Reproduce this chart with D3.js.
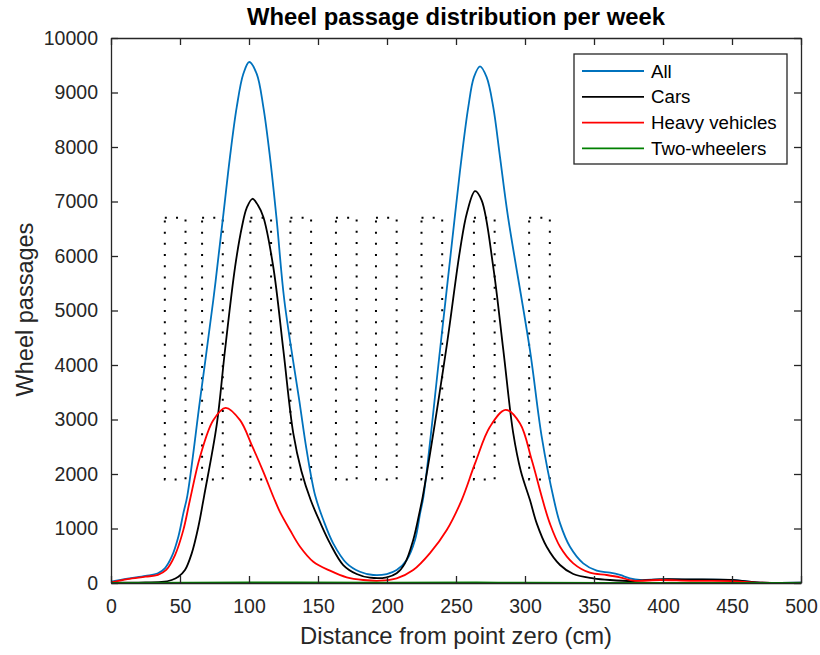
<!DOCTYPE html>
<html lang="en">
<head>
<meta charset="UTF-8">
<title>Wheel passage distribution per week</title>
<script src="https://cdn.jsdelivr.net/npm/d3@7"></script>
<style>
    body { margin: 0; background: #fff; }
    text { font-family: Arial, "Liberation Sans", Helvetica, sans-serif; fill: #262626; }
    .axis path, .axis line { stroke: #262626; }
</style>
</head>
<body>
<svg id="chart" width="820" height="655"></svg>
<script>
// x ticks / y ticks
var xTicks = [0, 50, 100, 150, 200, 250, 300, 350, 400, 450, 500];
var yTicks = [0, 1000, 2000, 3000, 4000, 5000, 6000, 7000, 8000, 9000, 10000];

var seriesNames = ['All', 'Cars', 'Heavy vehicles', 'Two-wheelers'];
var seriesColors = ['#0072BD', '#000000', '#FF0000', '#008000'];

// [distance cm, wheel passages]
var allPoints = [[0,24],[12,80],[25,130],[34,178],[39,269],[44,482],[48.8,850],[52.4,1278],[55.3,1600],
    [64.5,3355],[74.1,5188],[81.6,6800],[86.2,7815],[91.1,8731],[95.9,9343],[100.2,9560],[105.6,9343],
    [110.4,8731],[115.2,7815],[120.1,6654],[125.6,5188],[136.4,3355],[142,2400],[148,1600],[153.9,1155],[161,728],
    [170.8,361],[180.4,207],[190,147],[199.8,165],[207,238],[214.3,422],[220.3,788],[224,1278],[226.5,1600],
    [238.4,4271],[249.5,6800],[254.1,7815],[258.9,8731],[263,9282],[267.4,9480],[272.2,9282],[277,8731],
    [281.9,7815],[287.5,6750],[303.6,4271],[312,2700],[321,1522],[325.4,1094],[332.6,665],[342.2,361],[352,226],
    [361.6,189],[368.8,147],[376,86],[383.3,55],[397.8,68],[420,60],[450,55],[468,10],[500,5]];

var carsPoints = [[0,5],[20,8],[36.7,18],[44,55],[48.8,115],[53.6,238],[58.5,544],[63.3,1032],[67.5,1600],
    [76.6,2900],[82.6,4271],[89.9,5798],[95,6550],[98.3,6880],[102.5,7050],[106.5,6930],[110.4,6715],
    [117.6,5798],[124.9,4271],[132.1,2744],[138,2050],[144.7,1522],[151.4,1120],[158.7,728],[168.3,330],[178,165],
    [187.7,97],[199.8,104],[207,178],[213,361],[219,788],[223.9,1338],[226,1600],[242.8,4271],[252.9,6105],
    [258,6800],[263.8,7190],[268.6,7021],[277,5798],[284.3,4271],[291.5,2744],[297,2050],[303.6,1522],[308.5,1094],
    [315.7,665],[325.4,330],[335,165],[349.5,86],[361.6,55],[378.5,37],[397.8,68],[420,65],[450,55],
    [468,10],[500,5]];

var heavyPoints = [[0,10],[12,70],[25,115],[34,150],[40,240],[46.4,513],[52.4,970],[57.2,1522],[64.5,2316],
    [74.1,2988],[83.1,3215],[93.5,2988],[102,2530],[110.4,2040],[118,1560],[122.5,1300],[129.7,972],
    [137,665],[146.6,390],[158.7,226],[170.8,104],[182.8,55],[195,42],[207,86],[219,238],[231,544],
    [243.3,972],[254.1,1522],[263.8,2194],[274.6,2866],[286,3177],[296.4,2927],[304.9,2255],[312.8,1522],
    [318,1094],[325.4,665],[335,361],[347,189],[359.2,147],[368.8,104],[378.5,42],[397.8,55],[420,40],
    [450,35],[468,8],[500,3]];

var twoWheelPoints = [[0,0],[100,10],[200,5],[265,10],[300,5],[400,3],[500,0]];

// wheel track footprints: left edge in cm
var trackLefts = [39, 66, 101, 130, 163, 192, 225, 263, 303];
var trackWidth = 15;
var trackBottom = 1900;
var trackTop = 6700;

var svg = d3.select('#chart');
var margin = {top: 38, right: 19, bottom: 72, left: 111};
var width = 820 - margin.left - margin.right;
var height = 655 - margin.top - margin.bottom;

var x = d3.scaleLinear().domain([0, 500]).range([0, width]);
var y = d3.scaleLinear().domain([0, 10000]).range([height, 0]);

var vis = svg.append('g')
    .attr('transform', 'translate(' + margin.left + ',' + margin.top + ')');

vis.append('rect').attr('width', width).attr('height', height).attr('fill', '#fff');

vis.append('clipPath').attr('id', 'clip')
    .append('rect').attr('width', width).attr('height', height);

var plot = vis.append('g').attr('clip-path', 'url(#clip)');

// dotted footprints
plot.selectAll('.track')
    .data(trackLefts)
    .enter()
    .append('rect')
    .attr('class', 'track')
    .attr('x', function (d) { return x(d); })
    .attr('y', y(trackTop))
    .attr('width', x(trackWidth) - x(0))
    .attr('height', y(trackBottom) - y(trackTop))
    .attr('fill', 'none')
    .attr('stroke', '#000')
    .attr('stroke-width', 2)
    .attr('stroke-dasharray', '2,9.2');

var line = d3.line()
    .x(function (d) { return x(d[0]); })
    .y(function (d) { return y(d[1]); })
    .curve(d3.curveCatmullRom.alpha(0.5));

var allSeries = [allPoints, carsPoints, heavyPoints, twoWheelPoints];

plot.selectAll('.series')
    .data(allSeries)
    .enter()
    .append('path')
    .attr('class', 'series')
    .attr('d', line)
    .attr('fill', 'none')
    .attr('stroke', function (d, i) { return seriesColors[i]; })
    .attr('stroke-width', 1.8)
    .attr('stroke-linejoin', 'round');

// axes, MATLAB style: ticks inside on all four sides
var tickLen = 7;
var xAxis = vis.append('g').attr('class', 'axis')
    .attr('transform', 'translate(0,' + height + ')')
    .call(d3.axisBottom(x).tickValues(xTicks).tickSizeInner(-tickLen).tickSizeOuter(0).tickPadding(16));
var yAxis = vis.append('g').attr('class', 'axis')
    .call(d3.axisLeft(y).tickValues(yTicks).tickFormat(d3.format('d'))
        .tickSizeInner(-tickLen).tickSizeOuter(0).tickPadding(13));
vis.append('g').attr('class', 'axis')
    .call(d3.axisTop(x).tickValues(xTicks).tickSizeInner(-tickLen).tickSizeOuter(0).tickFormat(''));
vis.append('g').attr('class', 'axis')
    .attr('transform', 'translate(' + width + ',0)')
    .call(d3.axisRight(y).tickValues(yTicks).tickSizeInner(-tickLen).tickSizeOuter(0).tickFormat(''));

vis.selectAll('.axis path').attr('stroke-width', 1.3);
vis.selectAll('.axis line').attr('stroke-width', 1.3);
vis.selectAll('.axis text')
    .style('font-size', '19.5px')
    .attr('fill', '#262626');
xAxis.selectAll('text').attr('dy', '0.71em');

// titles
svg.append('text')
    .attr('x', margin.left + width / 2)
    .attr('y', 25)
    .attr('text-anchor', 'middle')
    .style('font-size', '23.8px')
    .style('font-weight', 'bold')
    .style('fill', '#000')
    .text('Wheel passage distribution per week');

svg.append('text')
    .attr('x', margin.left + width / 2)
    .attr('y', 644)
    .attr('text-anchor', 'middle')
    .style('font-size', '23.8px')
    .text('Distance from point zero (cm)');

svg.append('text')
    .attr('transform', 'translate(33,' + (margin.top + height / 2 - 1) + ') rotate(-90)')
    .attr('text-anchor', 'middle')
    .style('font-size', '23.5px')
    .text('Wheel passages');

// legend
var legend = svg.append('g').attr('transform', 'translate(574,54)');
legend.append('rect')
    .attr('width', 213)
    .attr('height', 110)
    .attr('fill', '#fff')
    .attr('stroke', '#262626')
    .attr('stroke-width', 1.3);

var entries = legend.selectAll('.entry')
    .data(seriesNames)
    .enter()
    .append('g')
    .attr('class', 'entry')
    .attr('transform', function (d, i) { return 'translate(0,' + (17 + i * 25.8) + ')'; });

entries.append('line')
    .attr('x1', 8).attr('x2', 70)
    .attr('stroke', function (d, i) { return seriesColors[i]; })
    .attr('stroke-width', 1.8);

entries.append('text')
    .attr('x', 77)
    .attr('dy', '0.35em')
    .style('font-size', '18.7px')
    .style('fill', '#000')
    .text(function (d) { return d; });
</script>
</body>
</html>
